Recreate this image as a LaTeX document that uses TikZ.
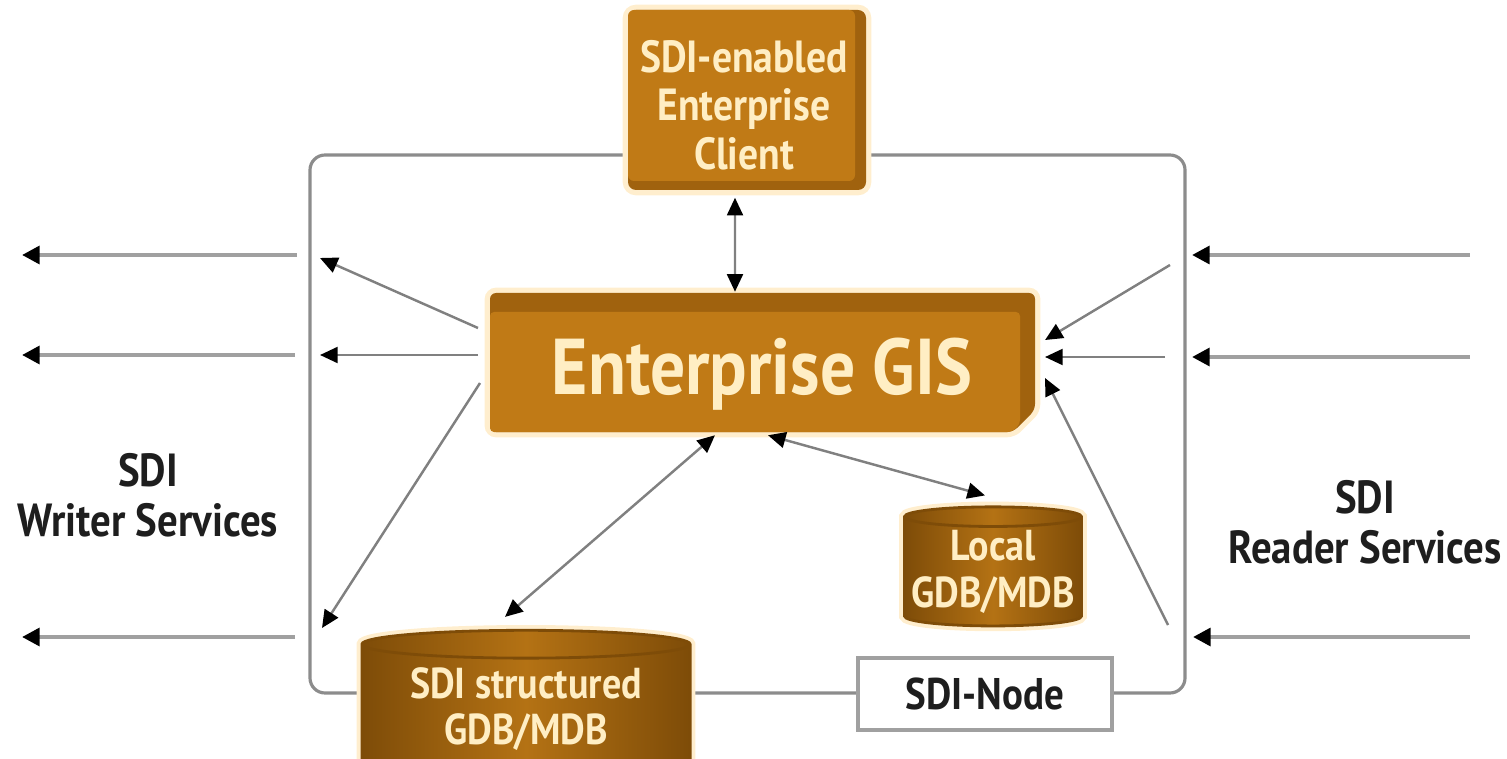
\documentclass[tikz,border=0pt]{standalone}
\usepackage{fontspec}
\setmainfont{PT Sans}
\newfontfamily\diafont[FakeStretch=0.88]{PT Sans}
\usetikzlibrary{shapes.geometric, arrows.meta, positioning}
\definecolor{gisfill}{RGB}{192,122,22}
\definecolor{gisdark}{RGB}{160,98,14}
\definecolor{dbmid}{RGB}{180,114,20}
\definecolor{dbdark}{RGB}{126,76,8}
\definecolor{textcream}{RGB}{255,238,196}
\definecolor{glowcolor}{RGB}{255,238,206}
\definecolor{linegray}{RGB}{160,160,160}
\definecolor{framegray}{RGB}{140,140,140}
\definecolor{labelcolor}{RGB}{30,30,30}

\begin{document}
\begin{tikzpicture}[
  x = 0.01cm,
  y = -0.01cm,
  boxtext/.style = {
    text = textcream,
    align = center,
    inner sep = 0pt,
    font = \diafont\bfseries\fontsize{12.8}{13.8}\selectfont
  },
  gistext/.style = {
    text = textcream,
    inner sep = 0pt,
    text height = 18.5pt,
    text depth = 0pt,
    font = \diafont\bfseries\fontsize{22.5}{25}\selectfont
  },
  dbase/.style = {
    cylinder,
    shape border rotate = 90,
    aspect = 0.12,
    draw = dbdark,
    line width = 0.8pt,
    left color = dbdark,
    right color = dbdark,
    middle color = dbmid,
    preaction = {draw = glowcolor, line width = 3pt},
    text = textcream,
    align = center,
    inner sep = 0pt,
    font = \diafont\bfseries\fontsize{12.3}{13.2}\selectfont
  },
  nodebox/.style = {
    rectangle,
    draw = linegray,
    line width = 1.2pt,
    fill = white,
    minimum width = 2.54cm,
    minimum height = 0.72cm,
    text = labelcolor,
    font = \diafont\bfseries\fontsize{12.6}{13.6}\selectfont
  },
  servicetext/.style = {
    text = labelcolor,
    align = center,
    font = \diafont\bfseries\fontsize{13.2}{14.2}\selectfont
  },
  boundary/.style = {
    draw = framegray,
    line width = 0.9pt,
    rounded corners = 0.15cm
  },
  outarrow/.style = {
    draw = linegray,
    line width = 1.2pt,
    -{Triangle[length=5pt, width=5pt, color=black]}
  },
  inarrow/.style = {
    draw = gray,
    line width = 0.7pt,
    -{Triangle[length=5pt, width=4.5pt, color=black]}
  },
  dualarrow/.style = {
    draw = gray,
    line width = 0.7pt,
    {Triangle[length=5pt, width=4.5pt, color=black]}-{Triangle[length=5pt, width=4.5pt, color=black]}
  }
]
\useasboundingbox (0,0) rectangle (1507,758);

% Frame
\draw[boundary] (310,155) rectangle (1185,693);

% Boxes
\fill[gisdark, rounded corners=0.08cm, preaction={draw=glowcolor, line width=3pt}] (628,10) rectangle (866,190);
\fill[gisfill, rounded corners=0.06cm] (628,10) rectangle (855,181);
\node[boxtext, minimum width=2.38cm, minimum height=1.8cm] (client) at (744,105) {SDI-enabled\\Enterprise\\Client};

\fill[gisdark, rounded corners=0.06cm, preaction={draw=glowcolor, line width=3pt}]
  (490,293) -- (1035,293) -- (1035,410) -- (1013,432) -- (490,432) -- cycle;
\fill[gisfill, rounded corners=0.04cm]
  (490,312) -- (1020,312) -- (1020,424) -- (1012,432) -- (490,432) -- cycle;
\node[gistext, minimum width=5.45cm, minimum height=1.39cm] (gis) at (762,362) {Enterprise GIS};

\node[dbase, minimum width=1.77cm, minimum height=1.19cm] (localdb) at (993,572) {Local\\GDB/MDB};
\node[dbase, minimum width=3.28cm, minimum height=1.42cm] (sdidb) at (526,709) {SDI structured\\GDB/MDB};
\node[nodebox] (sdinode) at (985,694) {SDI-Node};

% Labels
\node[servicetext] (writer) at (148,495) {SDI\\Writer Services};
\node[servicetext] (reader) at (1365,522) {SDI\\Reader Services};

% Points
\coordinate (wnear1) at (297,255);  \coordinate (wfar1) at (22,255);
\coordinate (wnear2) at (295,355);  \coordinate (wfar2) at (22,355);
\coordinate (wnear3) at (295,637);  \coordinate (wfar3) at (22,637);
\coordinate (wtip1) at (320,258);   \coordinate (gisw1) at (478,328);
\coordinate (wtip2) at (320,355);   \coordinate (gisw2) at (478,355);
\coordinate (wtip3) at (322,628);   \coordinate (gisw3) at (480,383);
\coordinate (rfar1) at (1470,255);  \coordinate (rnear1) at (1192,255);
\coordinate (rfar2) at (1470,357);  \coordinate (rnear2) at (1192,357);
\coordinate (rfar3) at (1470,637);  \coordinate (rnear3) at (1193,637);
\coordinate (rin1) at (1170,265);   \coordinate (gise1) at (1045,340);
\coordinate (rin2) at (1165,357);   \coordinate (gise2) at (1045,357);
\coordinate (rin3) at (1168,625);   \coordinate (gise3) at (1045,378);

% Arrows
\draw[outarrow] (wnear1) -- (wfar1);
\draw[outarrow] (wnear2) -- (wfar2);
\draw[outarrow] (wnear3) -- (wfar3);
\draw[outarrow] (rfar1) -- (rnear1);
\draw[outarrow] (rfar2) -- (rnear2);
\draw[outarrow] (rfar3) -- (rnear3);
\draw[inarrow] (gisw1) -- (wtip1);
\draw[inarrow] (gisw2) -- (wtip2);
\draw[inarrow] (gisw3) -- (wtip3);
\draw[inarrow] (rin1) -- (gise1);
\draw[inarrow] (rin2) -- (gise2);
\draw[inarrow] (rin3) -- (gise3);
\draw[dualarrow] ([xshift=-0.09cm, yshift=-0.02cm]client.south) -- ([xshift=-0.27cm]gis.north);
\draw[dualarrow] ([xshift=-0.47cm, yshift=-0.03cm]gis.south) -- ([xshift=-0.21cm, yshift=0.12cm]sdidb.north);
\draw[dualarrow] ([xshift=0.06cm, yshift=-0.03cm]gis.south) -- ([xshift=-0.08cm, yshift=0.1cm]localdb.north);

\end{tikzpicture}
\end{document}
